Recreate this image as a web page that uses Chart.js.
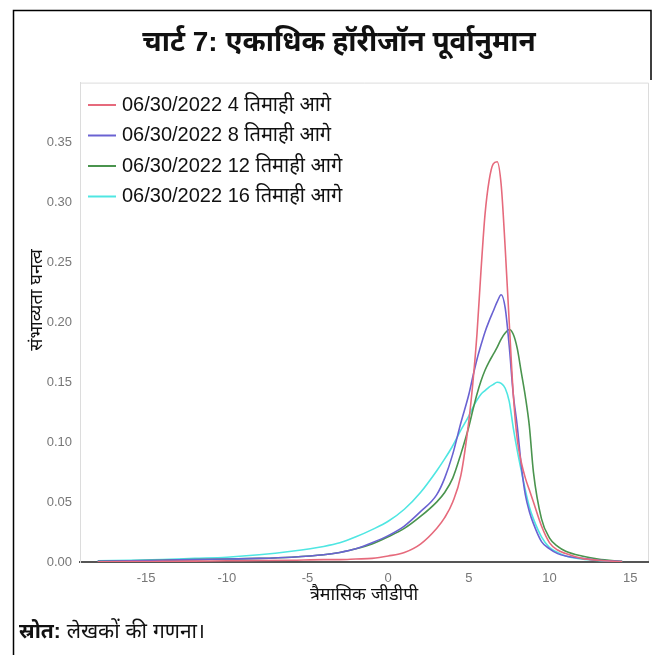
<!DOCTYPE html>
<html>
<head>
<meta charset="utf-8">
<script src="https://cdn.jsdelivr.net/npm/chart.js@4.4.1/dist/chart.umd.min.js"></script>
<style>
  body { margin: 0; background: #fff; }
  canvas { display: block; }
</style>
</head>
<body>
<canvas id="myChart" width="664" height="655"></canvas>
<script>
// GDP growth grid (x axis of the density plot)
const gdpX = [-18, -16, -14, -12, -10, -8, -6, -4, -3, -2, -1, 0, 1, 2, 3, 3.5, 4, 4.5, 5, 5.25,
  5.5, 5.75, 6, 6.25, 6.5, 6.75, 7, 7.25, 7.5, 7.75, 8, 8.25, 8.5, 8.75, 9, 9.5, 10, 10.5, 11, 12, 13, 14, 14.5];

const q4 = [0.0002, 0.0003, 0.0005, 0.0007, 0.001, 0.0012, 0.0015, 0.002, 0.002, 0.0025, 0.003, 0.005,
  0.008, 0.015, 0.028, 0.037, 0.05, 0.072, 0.118, 0.15, 0.19, 0.243, 0.29, 0.318, 0.332, 0.334,
  0.315, 0.262, 0.2, 0.14, 0.102, 0.083, 0.07, 0.06, 0.05, 0.03, 0.016, 0.01, 0.007, 0.003, 0.0015, 0.0006, 0.0003];
const q8 = [0.0005, 0.001, 0.0015, 0.002, 0.0025, 0.003, 0.004, 0.006, 0.008, 0.011, 0.016, 0.022,
  0.03, 0.042, 0.056, 0.07, 0.09, 0.116, 0.14, 0.155, 0.169, 0.181, 0.192, 0.201, 0.209, 0.217,
  0.223, 0.212, 0.18, 0.14, 0.113, 0.08, 0.056, 0.042, 0.032, 0.017, 0.011, 0.007, 0.005, 0.003, 0.0015, 0.0008, 0.0004];
const q12 = [0.0005, 0.001, 0.0015, 0.002, 0.0025, 0.003, 0.004, 0.006, 0.008, 0.011, 0.015, 0.021,
  0.028, 0.038, 0.05, 0.058, 0.07, 0.09, 0.113, 0.127, 0.14, 0.151, 0.16, 0.167, 0.173, 0.179,
  0.186, 0.191, 0.194, 0.19, 0.178, 0.158, 0.138, 0.113, 0.075, 0.036, 0.02, 0.013, 0.009, 0.005, 0.0025, 0.001, 0.0005];
const q16 = [0.001, 0.0015, 0.002, 0.003, 0.004, 0.006, 0.009, 0.013, 0.016, 0.021, 0.027, 0.034,
  0.044, 0.058, 0.076, 0.086, 0.097, 0.11, 0.122, 0.129, 0.135, 0.14, 0.143, 0.146, 0.148, 0.15,
  0.149, 0.145, 0.134, 0.112, 0.093, 0.076, 0.06, 0.046, 0.036, 0.021, 0.012, 0.008, 0.005, 0.0025, 0.0012, 0.0005, 0.0002];

const seriesNames = ['06/30/2022 4 तिमाही आगे', '06/30/2022 8 तिमाही आगे', '06/30/2022 12 तिमाही आगे', '06/30/2022 16 तिमाही आगे'];
const seriesColors = ['#e66a7c', '#6a62d2', '#4a944e', '#4fe6e2'];
const yTicks = [0, 0.05, 0.1, 0.15, 0.2, 0.25, 0.3, 0.35];

const chartTitle = 'चार्ट 7: एकाधिक हॉरीजॉन पूर्वानुमान';
const xTitle = 'त्रैमासिक जीडीपी';
const yTitle = 'संभाव्यता घनत्व';
const sourceBold = 'स्रोत:';
const sourceText = ' लेखकों की गणना।';

const FONT = "'Liberation Sans', 'Noto Sans', sans-serif";

function toPoints(ys) {
  return gdpX.map((x, i) => ({ x: x, y: ys[i] }));
}

const allSeries = [q4, q8, q12, q16];
const datasets = allSeries.map((ys, i) => ({
  label: seriesNames[i],
  data: toPoints(ys),
  borderColor: seriesColors[i],
  borderWidth: 1.6,
  pointRadius: 0,
  fill: false,
  cubicInterpolationMode: 'monotone'
}));

// frame, legend, y title and source note
const extras = {
  id: 'extras',
  beforeDraw(chart) {
    const c = chart.ctx;
    const a = chart.chartArea;
    c.save();
    c.fillStyle = '#fff';
    c.fillRect(0, 0, chart.width, chart.height);
    c.strokeStyle = '#000';
    c.lineWidth = 1.5;
    c.beginPath();
    c.moveTo(13.5, 655);
    c.lineTo(13.5, 10.5);
    c.lineTo(651, 10.5);
    c.lineTo(651, 80);
    c.stroke();
    c.strokeStyle = '#dcdcdc';
    c.lineWidth = 1;
    c.beginPath();
    c.moveTo(a.left, a.top + 0.5);
    c.lineTo(a.right + 0.5, a.top + 0.5);
    c.lineTo(a.right + 0.5, a.bottom);
    c.stroke();
    c.restore();
  },
  afterDraw(chart) {
    const c = chart.ctx;
    c.save();
    // legend
    c.font = '20px ' + FONT;
    c.textBaseline = 'middle';
    chart.data.datasets.forEach((ds, i) => {
      const y = 105 + i * 30.5;
      c.strokeStyle = ds.borderColor;
      c.lineWidth = 2;
      c.beginPath();
      c.moveTo(88, y);
      c.lineTo(116, y);
      c.stroke();
      c.fillStyle = '#111';
      c.fillText(ds.label, 122, y);
    });
    // y axis title
    c.translate(37, 300);
    c.rotate(-Math.PI / 2);
    c.textAlign = 'center';
    c.font = '18px ' + FONT;
    c.fillText(yTitle, 0, 0);
    c.restore();
    // source
    c.save();
    c.fillStyle = '#111';
    c.textBaseline = 'alphabetic';
    c.font = 'bold 21px ' + FONT;
    c.fillText(sourceBold, 19, 638);
    const w = c.measureText(sourceBold).width;
    c.font = '21px ' + FONT;
    c.fillText(sourceText, 19 + w, 638);
    c.restore();
  }
};

const ctx = document.getElementById('myChart').getContext('2d');
const myChart = new Chart(ctx, {
  type: 'line',
  data: { datasets: datasets },
  options: {
    responsive: false,
    animation: false,
    devicePixelRatio: 1,
    layout: { padding: { left: 30, right: 16, top: 0, bottom: 49 } },
    plugins: {
      legend: { display: false },
      tooltip: { enabled: false },
      title: {
        display: true,
        text: chartTitle,
        color: '#111',
        font: { family: FONT, size: 28, weight: 'bold', lineHeight: 1.2 },
        padding: { top: 26, bottom: 23 }
      }
    },
    scales: {
      x: {
        type: 'linear',
        min: -19.1,
        max: 16.1,
        grid: { display: false },
        border: { color: '#555', width: 2 },
        ticks: {
          stepSize: 5,
          includeBounds: false,
          color: '#777',
          padding: 1,
          font: { family: "'Liberation Sans Narrow', " + FONT, size: 13 },
          maxRotation: 0
        },
        title: {
          display: true,
          text: xTitle,
          color: '#111',
          font: { family: FONT, size: 18 },
          padding: { top: 0, bottom: 0 }
        },
        afterFit: s => { s.height = 44; }
      },
      y: {
        min: 0,
        max: 0.4,
        grid: { display: false },
        border: { color: '#dcdcdc', width: 1 },
        afterBuildTicks: s => { s.ticks = yTicks.map(v => ({ value: v })); },
        ticks: {
          color: '#777',
          padding: 0,
          font: { family: "'Liberation Sans Narrow', " + FONT, size: 13 },
          callback: v => v.toFixed(2)
        },
        afterFit: s => { s.width = 50; }
      }
    }
  },
  plugins: [extras]
});
</script>
</body>
</html>
